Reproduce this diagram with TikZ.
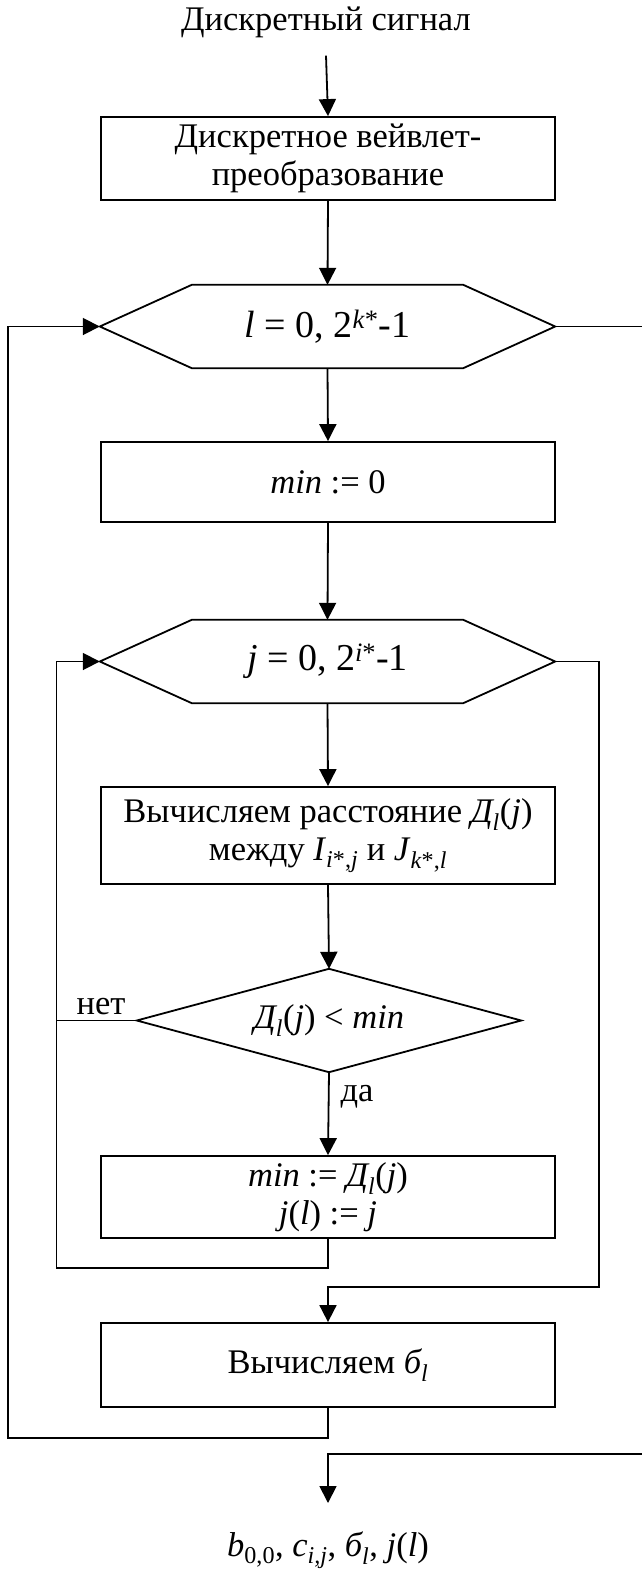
\documentclass[tikz,border=0pt]{standalone}
\usepackage{fontspec}
\setmainfont{Liberation Serif}
\usetikzlibrary{arrows.meta}
\tikzset{
  ln/.style={line width=1.8pt},
  arr/.style={ln, -{Triangle[length=17pt,width=17pt]}},
  every node/.style={font=\fontsize{34.5}{38}\selectfont},
  proc/.style={draw, line width=1.8pt, minimum width=454pt, inner sep=0pt, align=center},
  hexbox/.style={minimum width=455pt, minimum height=83pt, inner sep=0pt, align=center, font=\fontsize{38}{42}\selectfont},
  diabox/.style={minimum width=384pt, minimum height=103pt, inner sep=0pt, align=center},
  lbl/.style={inner sep=0pt}
}
\begin{document}
\begin{tikzpicture}[x=1pt,y=-1pt]
\useasboundingbox (0,0) rectangle (642,1573);
% nodes
\node[lbl, anchor=base] (title) at (326,31) {Дискретный сигнал};
\node[proc, minimum height=83pt] (b1) at (328,158.5) {Дискретное вейвлет-\\преобразование};
\node[hexbox] (h1) at (327.5,326.5) {\textit{l} = 0, 2\textsuperscript{\textit{k}*}-1};
\node[proc, minimum height=80pt] (b2) at (328,482) {\textit{min} := 0};
\node[hexbox] (h2) at (327.5,661.5) {\textit{j} = 0, 2\textsuperscript{\textit{i}*}-1};
\node[proc, minimum height=97pt] (b3) at (328,835.5) {Вычисляем расстояние \textit{Д\textsubscript{l}}(\textit{j})\\между \textit{I}\textsubscript{\textit{i}*,\textit{j}} и \textit{J}\textsubscript{\textit{k}*,\textit{l}}};
\node[diabox] (d) at (329,1020.5) {\textit{Д\textsubscript{l}}(\textit{j}) {\textless} \textit{min}};
\node[lbl, anchor=base] (no) at (101,1014) {нет};
\node[lbl, anchor=base] (yes) at (357,1101) {да};
\node[proc, minimum height=82pt] (b4) at (328,1197) {\textit{min} := \textit{Д\textsubscript{l}}(\textit{j})\\\textit{j}(\textit{l}) := \textit{j}};
\node[proc, minimum height=84pt] (b5) at (328,1365) {Вычисляем \textit{б\textsubscript{l}}};
\node[lbl, anchor=base] (out) at (328,1556) {\textit{b}\textsubscript{0,0}, \textit{c}\textsubscript{\textit{i,j}}, \textit{б\textsubscript{l}}, \textit{j}(\textit{l})};
% hexagon and diamond outlines
\foreach \h in {h1,h2}{
  \draw[ln] (\h.west) -- ([xshift=92pt]\h.north west) -- ([xshift=-92pt]\h.north east) -- (\h.east)
    -- ([xshift=-92pt]\h.south east) -- ([xshift=92pt]\h.south west) -- cycle;
}
\draw[ln] (d.west) -- (d.north) -- (d.east) -- (d.south) -- cycle;
% helper coordinates
\coordinate (ia) at (56.5,1268);
\coordinate (ib) at (599,1287);
\coordinate (oa) at (8,1438);
\coordinate (ra) at (645,326.5);
\coordinate (rb) at (645,1454);
\coordinate (oe) at (328,1503);
% connectors
\draw[arr] (title.south) ++(0,17) -- (b1.north);
\draw[arr] (b1.south) -- (h1.north);
\draw[arr] (h1.south) -- (b2.north);
\draw[arr] (b2.south) -- (h2.north);
\draw[arr] (h2.south) -- (b3.north);
\draw[arr] (b3.south) -- (d.north);
\draw[arr] (d.south) -- (b4.north);
\draw[ln] (d.west) -- (d.west -| ia);
\draw[arr] (b4.south) |- (ia) |- (h2.west);
\draw[arr] (h2.east) -| (ib) -| (b5.north);
\draw[arr] (b5.south) |- (oa) |- (h1.west);
\draw[ln] (h1.east) -- (ra);
\draw[arr] (rb) -| (oe);
\end{tikzpicture}
\end{document}
